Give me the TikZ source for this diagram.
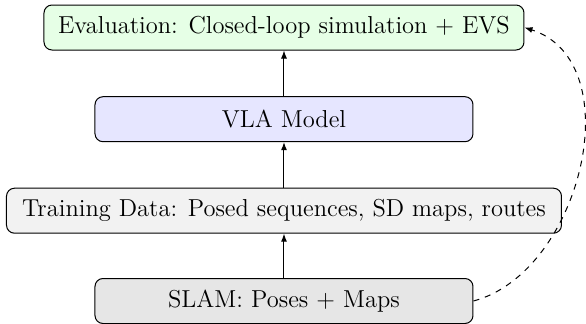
\documentclass[tikz,border=0pt]{standalone}
\usetikzlibrary{arrows.meta}
\definecolor{evalfill}{HTML}{E6FFE6}
\definecolor{modelfill}{HTML}{E6E6FF}
\definecolor{datafill}{HTML}{F2F2F2}
\definecolor{slamfill}{HTML}{E6E6E6}
\newlength{\datatextwd}
% size the stage font so that the widest label spans 267.5pt
\AtBeginDocument{%
  \settowidth{\datatextwd}{\fontsize{10pt}{12pt}\selectfont Training Data: Posed sequences, SD maps, routes}%
  \pgfmathsetmacro{\stagefs}{10*267.5/\datatextwd}%
  \global\let\stagefs\stagefs}
\begin{document}
\begin{tikzpicture}[
  x=0.5pt, y=-0.5pt,
  stage/.style={draw, line width=0.5pt, rounded corners=4pt, minimum height=22.5pt,
                inner sep=5pt, font=\fontsize{\stagefs pt}{14pt}\selectfont},
  flow/.style={line width=0.5pt, -{Latex[length=4pt,width=3pt]}},
  feedback/.style={line width=0.5pt, dashed, -{Latex[length=4pt,width=3pt]}}
]
\useasboundingbox (0,0) rectangle (586,323);
\node[stage, fill=evalfill, minimum width=240pt] (eval) at (284,27.5) {Evaluation: Closed-loop simulation + EVS};
\node[stage, fill=modelfill, minimum width=189pt] (vla) at (284,119.2) {VLA Model};
\node[stage, fill=datafill, minimum width=277.5pt] (data) at (284,210.7) {Training Data: Posed sequences, SD maps, routes};
\node[stage, fill=slamfill, minimum width=189pt] (slam) at (284,301) {SLAM: Poses + Maps};
\draw[flow] (slam) -- (data);
\draw[flow] (data) -- (vla);
\draw[flow] (vla) -- (eval);
\draw[feedback] (slam.east) to[out=15, in=-18, looseness=1.03] (eval.east);
\end{tikzpicture}
\end{document}
